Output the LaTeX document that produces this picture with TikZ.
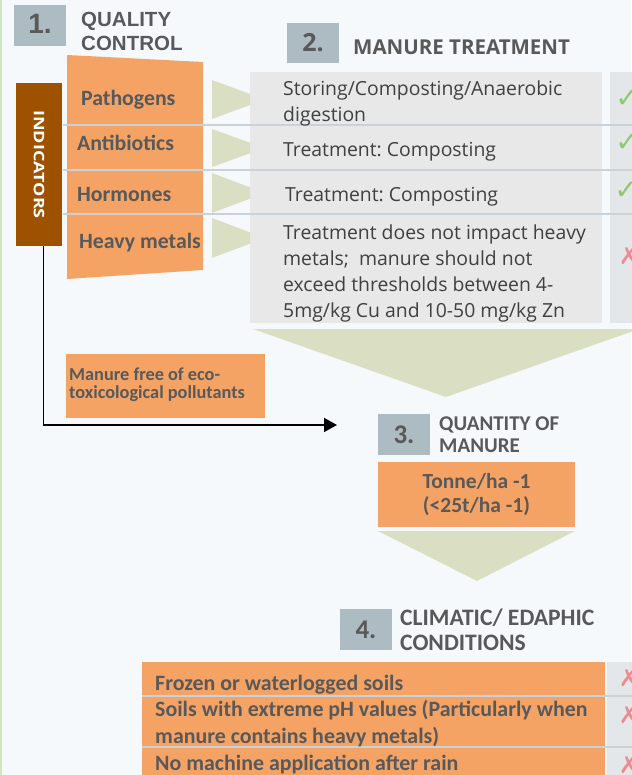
\documentclass[tikz,border=0pt]{standalone}
\usepackage{fontspec}
\setmainfont{Open Sans}
\newfontfamily\arialfont{Liberation Sans}
\newfontfamily\calfont{Carlito}
\newfontfamily\symfont{DejaVu Sans}
\usetikzlibrary{positioning,arrows.meta}
\frenchspacing

\definecolor{bgcol}{HTML}{F5F9FC}
\definecolor{edgegreen}{HTML}{CFE8C0}
\definecolor{numgray}{HTML}{ADBBC3}
\definecolor{titlegray}{HTML}{595959}
\definecolor{textgray}{HTML}{404040}
\definecolor{manureorange}{HTML}{F4A365}
\definecolor{indbrown}{HTML}{9E5200}
\definecolor{sepgray}{HTML}{C8D2D8}
\definecolor{arrowgreen}{HTML}{DADFC4}
\definecolor{cellgray}{HTML}{E8E8E8}
\definecolor{markgray}{HTML}{E3E7EA}
\definecolor{okgreen}{HTML}{8DCB72}
\definecolor{nored}{HTML}{EF8A90}

\begin{document}
\begin{tikzpicture}[x=1pt, y=-1pt,
	numbox/.style={fill=numgray, inner sep=0pt, text=titlegray, minimum width=52, minimum height=41},
	title/.style={anchor=base west, inner sep=0pt, align=left, text=titlegray},
	label/.style={anchor=base west, inner sep=0pt, align=left, text=titlegray, font=\calfont\bfseries\fontsize{21.8}{24}\selectfont},
	rowlabel/.style={label, font=\calfont\bfseries\fontsize{21.9}{27}\selectfont},
	cell/.style={anchor=base west, inner sep=0pt, align=left, text=textgray, font=\fontsize{19.4}{26}\selectfont},
	orangebox/.style={fill=manureorange, inner sep=0pt},
	tick/.style={text=okgreen, inner sep=0pt, font=\symfont\fontsize{28}{28}\selectfont},
	cross/.style={text=nored, inner sep=0pt, font=\symfont\fontsize{24}{24}\selectfont},
	sep/.style={draw=sepgray, line width=2pt},
	flow/.style={draw=black, line width=1.8pt, -{Triangle[length=13pt,width=14pt]}}
	]
		% Page and left edge
		\fill[bgcol] (0,0) rectangle (631,775);
		\useasboundingbox (0,0) rectangle (631,775);
		\draw[edgegreen, line width=2pt] (1,0) -- (1,775);
		
		% 1. Quality control (multi-line texts sit on their last baseline)
		\node[numbox] (qcnum) at (40,25.5) {\arialfont\bfseries\fontsize{28}{28}\selectfont\raisebox{4pt}{1.}};
		\node[title, font=\arialfont\bfseries\fontsize{20.5}{24}\selectfont] (qctitle) at (81,51) {QUALITY\\CONTROL};
		\fill[manureorange] (67,55) -- (203,62) -- (203,270) -- (67,279) -- cycle;
		\node[fill=indbrown, inner sep=0pt, minimum width=46, minimum height=163] (indic) at (39,164.5) {};
		\node[rotate=-90, text=white, font=\bfseries\fontsize{14.5}{14.5}\selectfont] (indictext) at (indic.center) {\scalebox{1.24}[1]{INDICATORS}};
		
		% Small arrows towards the treatments
		\foreach \ytop/\ybot in {80/119, 129/167, 173/213, 218/258} {
			\fill[arrowgreen] (212,\ytop) -- (265,{(\ytop+\ybot)/2}) -- (212,\ybot) -- cycle;
		}
		
		% 2. Manure treatment
		\node[numbox, minimum height=40] (mtnum) at (313,43) {\bfseries\fontsize{25}{25}\selectfont 2.};
		\node[title, font=\bfseries\fontsize{20.5}{24}\selectfont] (mttitle) at (353,55) {MANURE TREATMENT};
		\fill[cellgray] (250,72) rectangle (602,323);
		\fill[markgray] (610,72) rectangle (640,323);
		
		% Row separators
		\foreach \y in {125, 170, 214} {
			\draw[sep] (63,\y) -- (640,\y);
		}
		
		\node[label] (patho) at (81,106) {Pathogens};
		\node[label] (antib) at (77,151) {Antibiotics};
		\node[label] (hormo) at (77,202) {Hormones};
		\node[label] (heavy) at (79,249) {Heavy metals};
		
		\node[cell] (storing) at (283,122) {Storing/Composting/Anaerobic\\digestion};
		\node[cell] (compost) at (283,157) {Treatment: Composting};
		\node[cell] (compostb) at (285,202) {Treatment: Composting};
		\node[cell] (nometals) at (283,317) {Treatment does not impact heavy\\metals;\ \ manure should not\\exceed thresholds between 4-\\5mg/kg Cu and 10-50 mg/kg Zn};
		
		\node[tick] (okpatho) at (627,99) {✓};
		\node[tick] (okantib) at (627,143) {✓};
		\node[tick] (okhormo) at (626,191) {✓};
		\node[cross] (noheavy) at (629,256) {✗};
		
		\fill[arrowgreen] (253,329) -- (639,329) -- (446,397) -- cycle;
		
		% Indicators lead to manure free of pollutants
		\node[orangebox, minimum width=199, minimum height=64] (freebox) at (165.5,386) {};
		\node[title, font=\calfont\bfseries\fontsize{18.3}{18}\selectfont] (freetext) at (69,398) {Manure free of eco-\\toxicological pollutants};
		\coordinate (flowend) at (337,425);
		\draw[flow] ([xshift=4.5pt]indic.south) |- (flowend);
		
		% 3. Quantity of manure
		\node[numbox] (qmnum) at (404,434.5) {\calfont\bfseries\fontsize{27}{27}\selectfont 3.};
		\node[title, font=\calfont\bfseries\fontsize{21}{22}\selectfont] (qmtitle) at (439,452) {QUANTITY OF\\MANURE};
		\node[orangebox, minimum width=197, minimum height=65, text=titlegray, align=center, font=\calfont\bfseries\fontsize{21.5}{24}\selectfont] (rate) at (476.5,494.5) {Tonne/ha -1\\(<25t/ha -1)};
		\fill[arrowgreen] (378,531) -- (575,531) -- (477,581) -- cycle;
		
		% 4. Climatic / edaphic conditions
		\node[numbox] (cenum) at (366,629.5) {\calfont\bfseries\fontsize{27}{27}\selectfont 4.};
		\node[title, font=\calfont\bfseries\fontsize{23.6}{25}\selectfont] (cetitle) at (400,650) {CLIMATIC/ EDAPHIC\\CONDITIONS};
		\fill[manureorange] (142,662) rectangle (605,780);
		\fill[markgray] (607,662) rectangle (640,780);
		\foreach \y in {696, 747} {
			\draw[sep] (142,\y) -- (640,\y);
		}
		\node[rowlabel] (frozen) at (155,690) {Frozen or waterlogged soils};
		\node[rowlabel] (phsoil) at (155,743) {Soils with extreme pH values (Particularly when\\manure contains heavy metals)};
		\node[rowlabel] (rain) at (155,770) {No machine application after rain};
		\node[cross] (nofrozen) at (629,678) {✗};
		\node[cross] (nophsoil) at (629,715) {✗};
		\node[cross] (norain) at (629,765) {✗};
\end{tikzpicture}
\end{document}
